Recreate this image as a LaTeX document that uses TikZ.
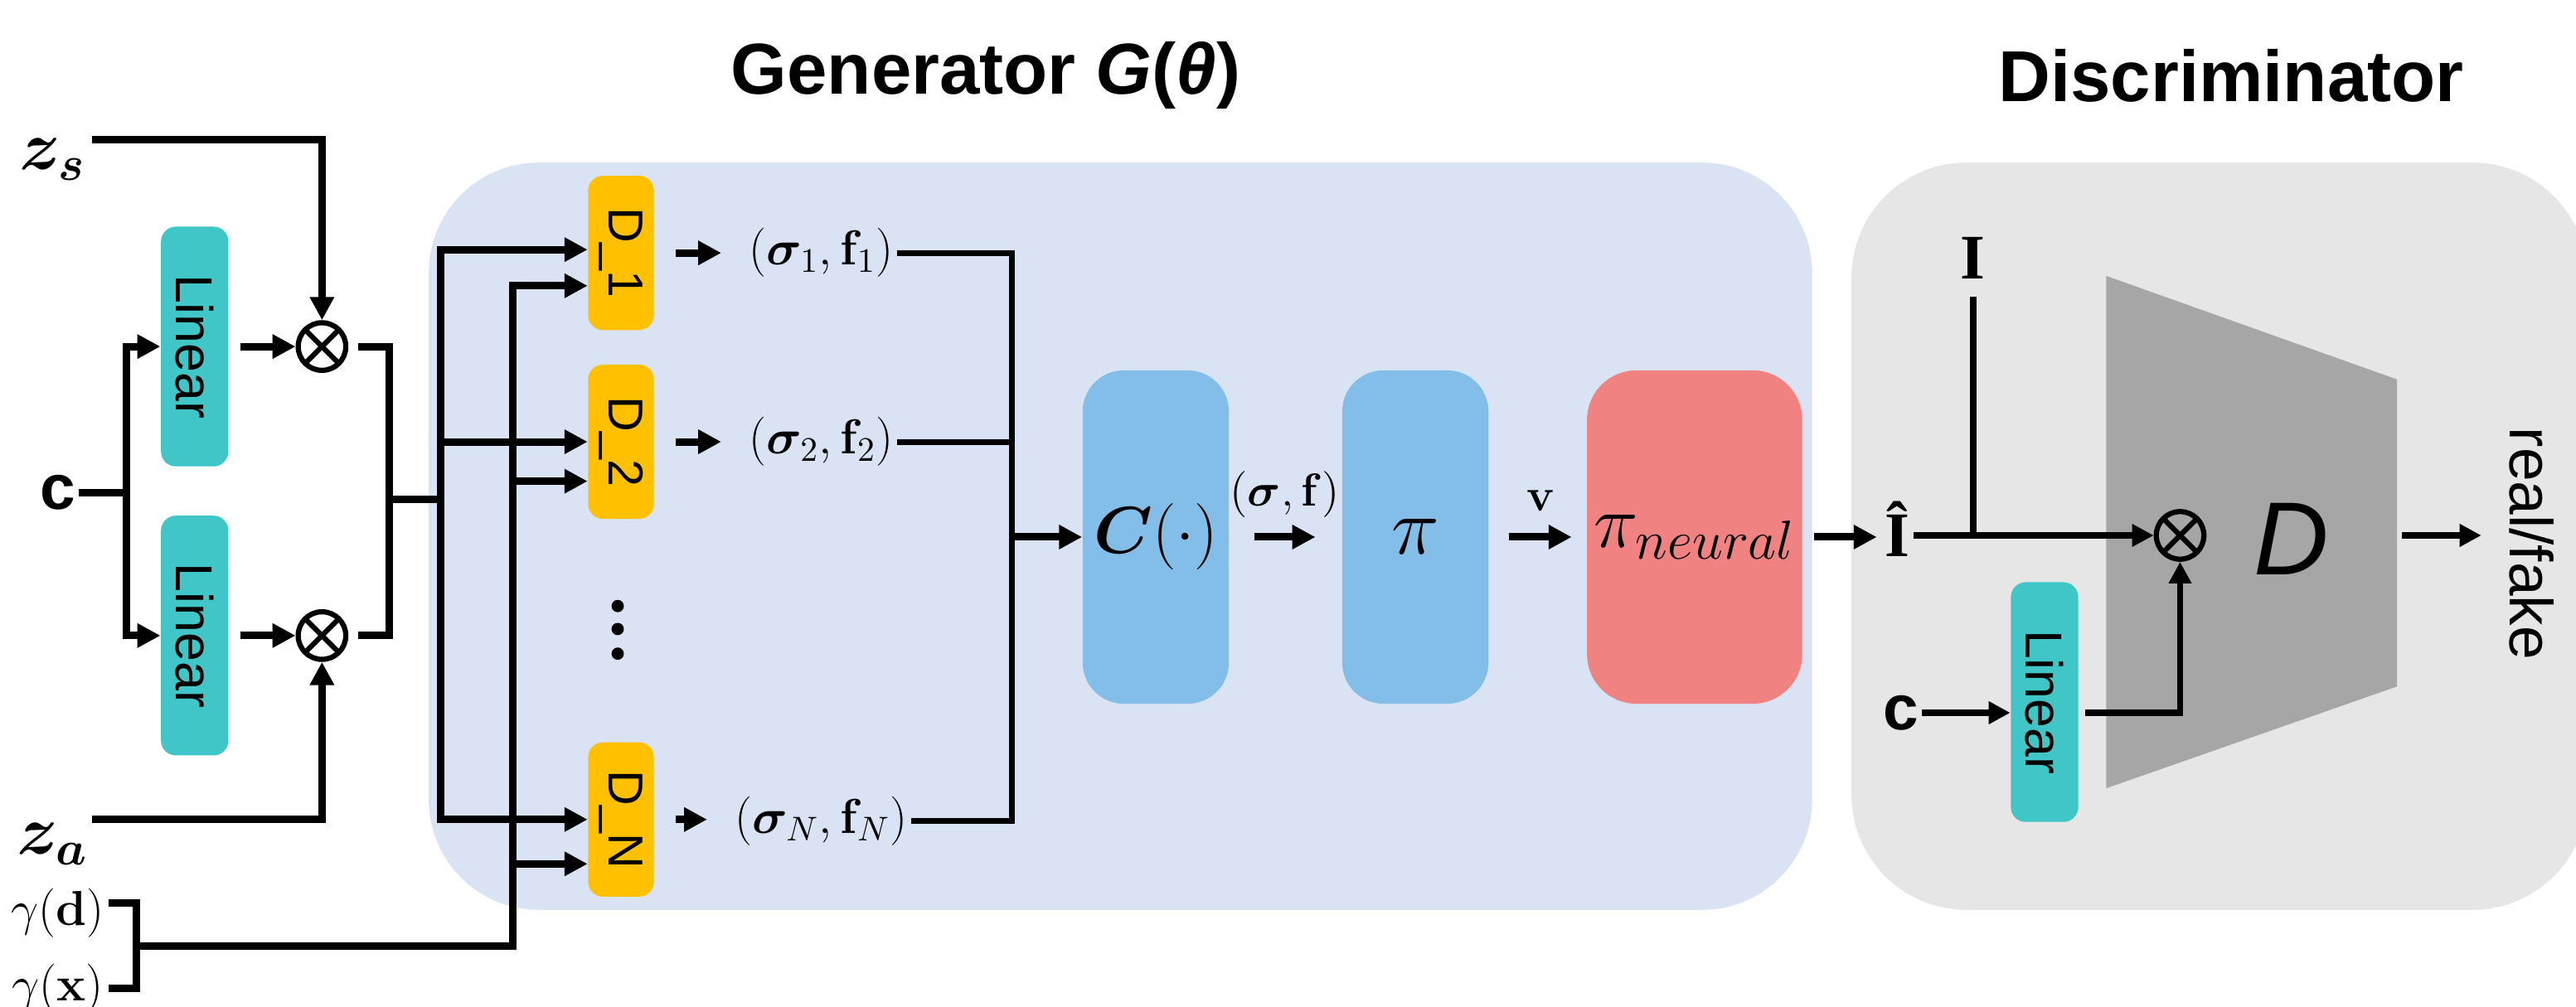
\RequirePackage{fix-cm}
\documentclass[tikz,border=0pt]{standalone}
\usepackage{amsmath}
\usepackage{bm}
\usepackage[no-math]{fontspec}
\setmainfont{Liberation Sans}
\newfontfamily\serifface{Liberation Serif}
\usetikzlibrary{arrows.meta}
\definecolor{genbg}{HTML}{DAE3F3}
\definecolor{discbg}{HTML}{E7E6E6}
\definecolor{tealbox}{HTML}{40C6C6}
\definecolor{yelbox}{HTML}{FFC000}
\definecolor{blubox}{HTML}{83BEE8}
\definecolor{pnkbox}{HTML}{F08282}
\definecolor{trapgray}{HTML}{A6A6A6}
\newcommand\myfs[1]{\fontsize{#1}{#1}\selectfont}
\begin{document}
\begin{tikzpicture}[x=0.02cm,y=-0.02cm,
  ln/.style={line width=2.6pt},
  bus/.style={line width=2.6pt, line cap=rect},
  arr/.style={line width=2.6pt,-{Triangle[length=8pt,width=8pt]}},
  mln/.style={line width=2pt},
  dln/.style={line width=2.2pt},
  darr/.style={line width=2.2pt,-{Triangle[length=7.5pt,width=7.5pt]}},
  linbox/.style={fill=tealbox, rounded corners=0.18cm, minimum width=0.82cm, minimum height=2.92cm, inner sep=0pt, font=\myfs{18}},
  dbox/.style={fill=yelbox, rounded corners=0.18cm, minimum width=0.8cm, minimum height=1.88cm, inner sep=0pt, font=\myfs{17}},
  bigbox/.style={rounded corners=0.5cm, minimum height=4.06cm, inner sep=0pt},
  otimes/.style={circle, draw, line width=1.8pt, minimum size=0.58cm, inner sep=0pt,
    path picture={\draw[line width=1.8pt] (path picture bounding box.north west) -- (path picture bounding box.south east)
      (path picture bounding box.south west) -- (path picture bounding box.north east);}},
  lbl/.style={inner sep=1pt}]
\useasboundingbox (0,0) rectangle (1568,613);

% panels
\fill[genbg, rounded corners=1.34cm] (261,99) rectangle (1103,554);
\fill[discbg, rounded corners=1.4cm] (1127,99) rectangle (1575,554);

% titles
\node[font=\myfs{25}\bfseries] (gtitle) at (600,46) {Generator \textit{G}(\textit{θ})};
\node[font=\myfs{25}\bfseries] (dtitle) at (1358,46) {Discriminator};

% left inputs
\node[lbl, font=\myfs{24}] (zs) at (32,97) {$\bm{z_s}$};
\node[lbl, font=\myfs{24}] (za) at (32,514) {$\bm{z_a}$};
\node[lbl, font=\myfs{22}\bfseries] (c1) at (35,300) {c};
\node[lbl, font=\myfs{17}] (gd) at (35,556) {$\gamma(\mathbf{d})$};
\node[lbl, font=\myfs{17}] (gx) at (35,602) {$\gamma(\mathbf{x})$};

\node[linbox] (L1) at (118.5,211) {\rotatebox{-90}{Linear}};
\node[linbox] (L2) at (118.5,387) {\rotatebox{-90}{Linear}};
\node[otimes] (X1) at (196,211) {};
\node[otimes] (X2) at (196,387) {};

% D boxes
\node[dbox] (D1) at (378,154) {\rotatebox{-90}{D\_1}};
\node[dbox] (D2) at (378,269) {\rotatebox{-90}{D\_2}};
\node[dbox] (DN) at (378,499) {\rotatebox{-90}{D\_N}};
\foreach \yy in {369,383,398} \fill (376,\yy) circle[radius=0.075cm];

\node[lbl, font=\myfs{17}] (s1) at (500,154) {$(\bm{\sigma}_1,\mathbf{f}_1)$};
\node[lbl, font=\myfs{17}] (s2) at (500,269) {$(\bm{\sigma}_2,\mathbf{f}_2)$};
\node[lbl, font=\myfs{17}] (sN) at (500,500) {$(\bm{\sigma}_N,\mathbf{f}_N)$};

% main blocks
\node[bigbox, fill=blubox, minimum width=1.78cm, font=\myfs{23}] (C) at (703.5,327) {$\bm{C}(\cdot)$};
\node[bigbox, fill=blubox, minimum width=1.78cm, font=\myfs{28}] (P) at (861.5,327) {$\pi$};
\node[bigbox, fill=pnkbox, minimum width=2.62cm, rounded corners=0.6cm, font=\myfs{26}] (PN) at (1031.5,327) {$\pi_{\mbox{\myfs{19}$neural$}}$};
\node[lbl, font=\myfs{16}] (sf) at (782,301) {$(\bm{\sigma},\mathbf{f})$};
\node[lbl, font=\myfs{16}] (v) at (938,305) {$\mathbf{v}$};

% discriminator
\fill[trapgray] (1282,168) -- (1459,231) -- (1459,418) -- (1282,480) -- cycle;
\node[lbl, font=\myfs{22}\serifface\bfseries] (Ih) at (1155,322) {Î};
\node[lbl, font=\myfs{22}\serifface\bfseries] (I) at (1201,157) {I};
\node[otimes] (X3) at (1327,326) {};
\node[font=\myfs{36}\itshape] (Dl) at (1395,328) {D};
\node[lbl, font=\myfs{21}] (RF) at (1541,331) {\rotatebox{-90}{real/fake}};
\node[lbl, font=\myfs{22}\bfseries] (c2) at (1157,434) {c};
\node[linbox] (L3) at (1244.5,427.5) {\rotatebox{-90}{Linear}};
\coordinate (Dout) at (1459,326);
\coordinate (Ij) at (1201,326);

% coordinates
\coordinate (zsE) at (56,85);
\coordinate (zaE) at (56,499);
\coordinate (cj) at (77,300);
\coordinate (mj) at (237,304);
\coordinate (b1m) at (268,304);
\coordinate (b1t) at (268,152);
\coordinate (b1b) at (268,499);
\coordinate (b2t) at (312,174);
\coordinate (b2b) at (312,576);
\coordinate (b2d2) at (312,293);
\coordinate (b2dn) at (312,526);
\coordinate (gdE) at (66,550);
\coordinate (gxE) at (66,602);
\coordinate (gj) at (83,576);
\coordinate (mj2) at (616,327);

% left connectors
\draw[arr] (zsE) -| (X1.north);
\draw[arr] (zaE) -| (X2.south);
\draw[ln] (c1.east) -- (cj);
\draw[arr] (cj) |- (L1.west);
\draw[arr] (cj) |- (L2.west);
\draw[arr, shorten <=0.14cm] (L1.east) -- (X1.west);
\draw[arr, shorten <=0.14cm] (L2.east) -- (X2.west);
\draw[ln, shorten <=0.12cm] (X1.east) -| (mj);
\draw[ln, shorten <=0.12cm] (X2.east) -| (mj);
\draw[ln] (mj) -- (b1m);
\draw[bus] (b1t) -- (b1b);
\draw[arr] (b1t) -- (b1t -| D1.west);
\draw[arr] (b1t |- D2.west) -- (D2.west);
\draw[arr] (b1b) -- (b1b -| DN.west);
\draw[bus] (b2t) -- (b2b);
\draw[arr] (b2t) -- (b2t -| D1.west);
\draw[arr] (b2d2) -- (b2d2 -| D2.west);
\draw[arr] (b2dn) -- (b2dn -| DN.west);
\draw[ln] (gdE) -| (gj);
\draw[ln] (gxE) -| (gj);
\draw[ln] (gj) -- (b2b);

% D outputs
\draw[arr, shorten <=0.26cm, shorten >=0.3cm] (D1.east) -- (s1.west);
\draw[arr, shorten <=0.26cm, shorten >=0.3cm] (D2.east) -- (s2.west);
\draw[arr, shorten <=0.26cm, shorten >=0.3cm] (DN.east) -- (DN.east -| sN.west);
\draw[mln] (s1.east) -| (mj2);
\draw[mln] (s2.east) -| (mj2);
\draw[mln] (sN.east) -| (mj2);
\draw[arr] (mj2) -- (C.west);
\draw[arr, shorten <=0.3cm, shorten >=0.32cm] (C.east) -- (P.west);
\draw[arr, shorten <=0.24cm, shorten >=0.18cm] (P.east) -- (PN.west);
\draw[arr, shorten <=0.14cm, shorten >=0.06cm] (PN.east) -- (PN.east -| Ih.west);

% discriminator connectors
\draw[dln, shorten <=0.18cm] (I.south) -- (Ij);
\draw[darr] (Ih.east |- X3) -- (X3.west);
\draw[darr] (c2.east) -- (c2.east -| L3.west);
\draw[darr, shorten <=0.08cm] (c2.east -| L3.east) -| (X3.south);
\draw[darr, shorten <=0.06cm, shorten >=0.3cm] (Dout) -- (Dout -| RF.west);
\end{tikzpicture}
\end{document}
